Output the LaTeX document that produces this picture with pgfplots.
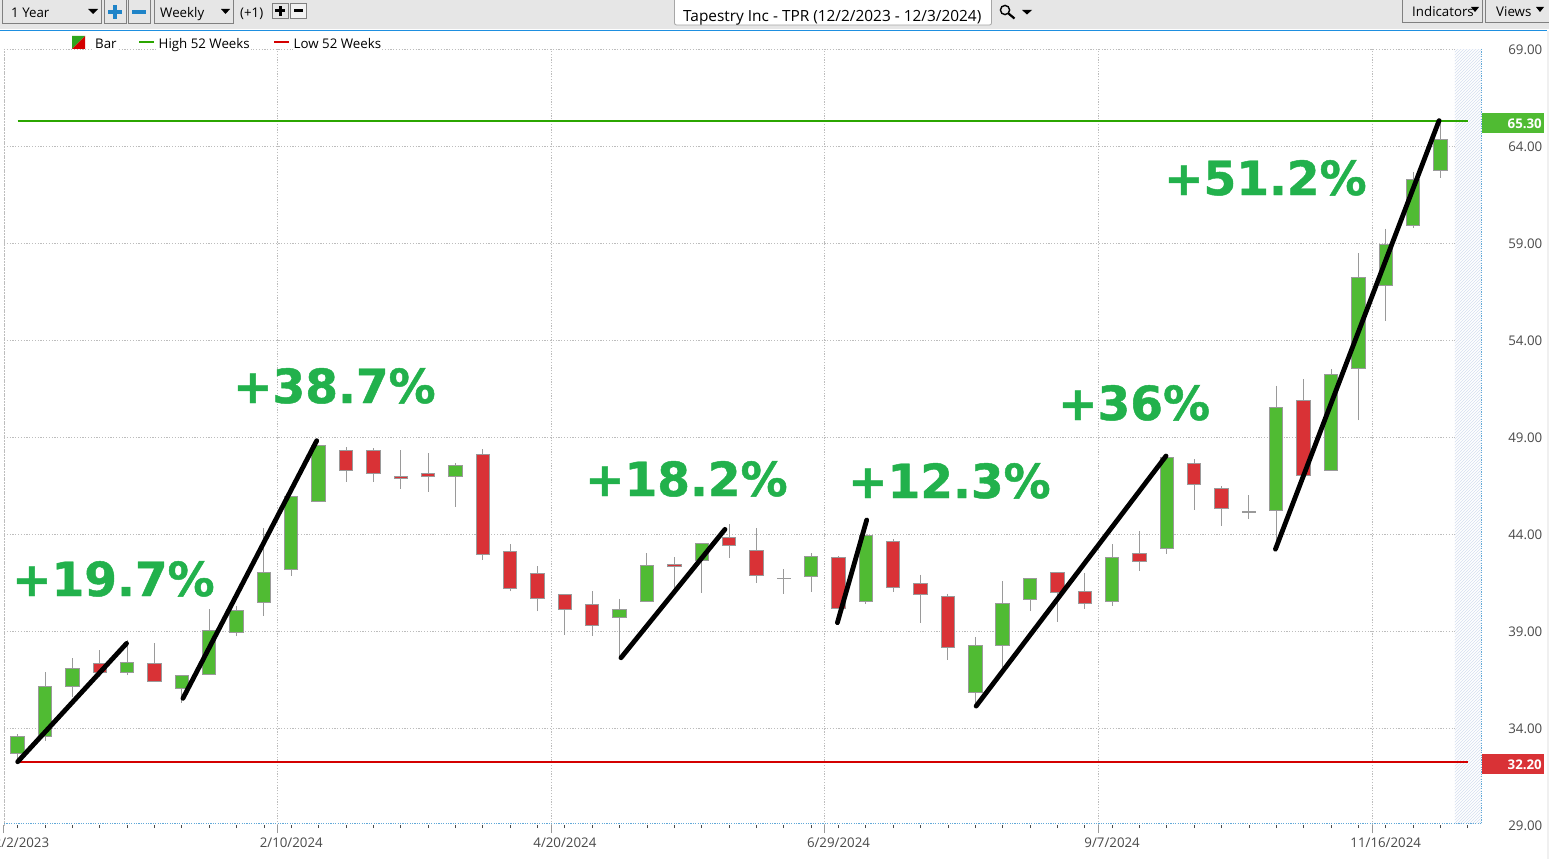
\documentclass[border=0pt]{standalone}
\usepackage{pgfplots}
\pgfplotsset{compat=1.18}
\usepgfplotslibrary{statistics}
\usetikzlibrary{patterns}
\usepackage{fontspec}
\setmainfont{Open Sans}
\newfontfamily\gainfont[FakeBold=1.0]{DejaVu Sans Bold}

\definecolor{upgreen}{HTML}{50BB33}
\definecolor{downred}{HTML}{D93236}
\definecolor{edgegray}{HTML}{9A9A9A}
\definecolor{gridgray}{HTML}{BDBDBD}
\definecolor{highline}{HTML}{2BA600}
\definecolor{lowline}{HTML}{D40000}
\definecolor{gaintext}{HTML}{22B14C}
\definecolor{labelgray}{HTML}{4A4A4A}
\definecolor{barblue}{HTML}{1E8FE0}
\definecolor{plusblue}{HTML}{1F84C8}
\definecolor{hatchblue}{HTML}{D5DFF0}
\definecolor{toolgray}{HTML}{E6E6E6}
\definecolor{boxgray}{HTML}{808080}

% x, low, body bottom, body top, high, colour
\newcommand{\candle}[6]{%
  \addplot[draw=edgegray, fill=#6, line width=1pt,
    boxplot prepared={draw position=#1, lower whisker=#2, lower quartile=#3,
      median=#3, upper quartile=#4, upper whisker=#5,
      box extend=0.49, whisker extend=0}] coordinates {};}
\newcommand{\ui}{\fontsize{13.3}{16}\selectfont}
\newcommand{\gain}[3]{\node[anchor=base west, inner sep=0pt, text=gaintext,
  font=\gainfont\fontsize{47}{50}\selectfont] at (#1,#2) {#3};}

\begin{document}
\begin{tikzpicture}[x=1pt, y=-1pt]
\useasboundingbox (0,0) rectangle (1549,859);
\fill[white] (0,0) rectangle (1549,859);

\begin{axis}[
  at={(4pt,-825pt)}, anchor=south west,
  scale only axis, width=1477.5pt, height=776pt,
  xmin=-0.5, xmax=53.5, ymin=29, ymax=69,
  boxplot/draw direction=y,
  axis line style={draw=none},
  xtick={0,10,20,30,40,50},
  xticklabels={12/2/2023,2/10/2024,4/20/2024,6/29/2024,9/7/2024,11/16/2024},
  minor xtick={0,1,...,53},
  xtick pos=lower,
  tick align=outside,
  major tick length=3pt, minor tick length=3pt,
  tick style={draw=labelgray, line width=0.8pt},
  extra x ticks={-0.5,9.5,19.5,29.5,39.5,49.5},
  extra x tick labels={},
  extra x tick style={grid=major, major tick length=8pt,
    tick style={draw=edgegray, line width=1pt}},
  xticklabel style={anchor=base, yshift=-19.5pt, inner sep=0pt, text=labelgray, font=\ui},
  ytick={34,39,...,69},
  extra y ticks={29},
  extra y tick style={grid=none},
  ymajorgrids=true,
  ytick pos=right,
  ytick style={draw=none},
  yticklabel style={anchor=east, xshift=58pt, yshift=-0.8pt, inner sep=0pt, text=labelgray, font=\ui,
    /pgf/number format/fixed, /pgf/number format/fixed zerofill,
    /pgf/number format/precision=2, /pgf/number format/assume math mode=true},
  grid style={draw=gridgray, line width=0.9pt, dash pattern=on 1.2pt off 1.6pt},
  clip=true,
]
% forecast band on the right
\addplot[fill=white, draw=none] coordinates {(52.53,29.08)(53.5,29.08)(53.5,69)(52.53,69)} -- cycle;
\addplot[pattern=north east lines, pattern color=hatchblue, draw=none] coordinates {(52.53,29.08)(53.5,29.08)(53.5,69)(52.53,69)} -- cycle;

\candle{0}{32.20}{32.69}{33.57}{33.69}{upgreen}
\candle{1}{33.35}{33.57}{36.15}{36.87}{upgreen}
\candle{2}{35.61}{36.15}{37.07}{37.59}{upgreen}
\candle{3}{36.65}{36.87}{37.33}{38.02}{downred}
\candle{4}{36.73}{36.87}{37.38}{38.54}{upgreen}
\candle{5}{36.40}{36.40}{37.33}{38.36}{downred}
\candle{6}{35.30}{36.04}{36.71}{36.71}{upgreen}
\candle{7}{36.77}{36.77}{39.03}{40.13}{upgreen}
\candle{8}{38.74}{38.93}{40.06}{40.30}{upgreen}
\candle{9}{39.79}{40.48}{42.02}{44.29}{upgreen}
\candle{10}{41.85}{42.18}{45.92}{45.92}{upgreen}
\candle{11}{45.68}{45.68}{48.57}{48.60}{upgreen}
\candle{12}{46.70}{47.28}{48.29}{48.47}{downred}
\candle{13}{46.70}{47.13}{48.29}{48.42}{downred}
\candle{14}{46.34}{46.87}{46.97}{48.33}{downred}
\candle{15}{46.18}{46.97}{47.13}{48.16}{downred}
\candle{16}{45.41}{46.97}{47.54}{47.64}{upgreen}
\candle{17}{42.68}{42.95}{48.09}{48.38}{downred}
\candle{18}{41.06}{41.20}{43.11}{43.48}{downred}
\candle{19}{40.03}{40.68}{41.95}{42.35}{downred}
\candle{20}{38.81}{40.12}{40.89}{40.89}{downred}
\candle{21}{38.76}{39.29}{40.37}{41.06}{downred}
\candle{22}{37.68}{39.70}{40.12}{40.65}{upgreen}
\candle{23}{40.51}{40.51}{42.38}{43.02}{upgreen}
\candle{24}{41.11}{42.33}{42.44}{42.81}{downred}
\candle{25}{40.97}{42.64}{43.52}{43.52}{upgreen}
\candle{26}{42.78}{43.41}{43.83}{44.51}{downred}
\candle{27}{41.49}{41.87}{43.16}{44.29}{downred}
\candle{28}{40.92}{41.69}{41.71}{42.18}{edgegray}
\candle{29}{41.03}{41.82}{42.85}{43.02}{upgreen}
\candle{30}{40.17}{40.17}{42.80}{42.85}{downred}
\candle{31}{40.41}{40.51}{43.93}{43.93}{upgreen}
\candle{32}{41.03}{41.25}{43.62}{43.72}{downred}
\candle{33}{39.43}{40.89}{41.46}{41.89}{downred}
\candle{34}{37.52}{38.16}{40.79}{40.91}{downred}
\candle{35}{35.18}{35.83}{38.26}{38.69}{upgreen}
\candle{36}{37.16}{38.26}{40.42}{41.57}{upgreen}
\candle{37}{40.04}{40.63}{41.71}{41.71}{upgreen}
\candle{38}{39.48}{40.99}{42.02}{42.02}{downred}
\candle{39}{40.15}{40.42}{41.04}{41.99}{downred}
\candle{40}{40.30}{40.53}{42.79}{43.48}{upgreen}
\candle{41}{42.11}{42.59}{42.98}{44.13}{downred}
\candle{42}{42.98}{43.26}{47.95}{47.95}{upgreen}
\candle{43}{45.25}{46.56}{47.62}{47.86}{downred}
\candle{44}{44.43}{45.32}{46.35}{46.45}{downred}
\candle{45}{44.79}{45.14}{45.16}{45.99}{edgegray}
\candle{46}{43.26}{45.22}{50.53}{51.63}{upgreen}
\candle{47}{47.02}{47.02}{50.87}{51.99}{downred}
\candle{48}{47.28}{47.28}{52.23}{52.48}{upgreen}
\candle{49}{49.87}{52.53}{57.23}{58.46}{upgreen}
\candle{50}{54.99}{56.82}{58.94}{59.73}{upgreen}
\candle{51}{59.78}{59.90}{62.29}{62.65}{upgreen}
\candle{52}{62.37}{62.73}{64.35}{65.30}{upgreen}

% 52 week levels
\addplot[highline, line width=2pt] coordinates {(0,65.30)(53,65.30)};
\addplot[lowline, line width=2pt] coordinates {(0,32.24)(53,32.24)};

% hand drawn trend lines
\addplot[black, line width=4.8pt, line cap=round] coordinates {(0,32.26)(3.98,38.36)};
\addplot[black, line width=4.8pt, line cap=round] coordinates {(6.04,35.53)(10.93,48.81)};
\addplot[black, line width=4.8pt, line cap=round] coordinates {(22.05,37.62)(25.85,44.24)};
\addplot[black, line width=4.8pt, line cap=round] coordinates {(29.96,39.43)(31.03,44.72)};
\addplot[black, line width=4.8pt, line cap=round] coordinates {(35.03,35.13)(41.97,48.02)};
\addplot[black, line width=4.8pt, line cap=round] coordinates {(45.97,43.22)(51.95,65.31)};
\end{axis}

% frame of the plot area
\draw[gridgray, line width=1pt, dash pattern=on 1.2pt off 1.6pt] (4,49) -- (4,825);
\draw[plusblue!70, line width=1pt, dash pattern=on 1.2pt off 1.2pt] (4,823.4) -- (1481.5,823.4);
\draw[plusblue!70, line width=1pt, dash pattern=on 1.2pt off 1.2pt] (1481.5,49) -- (1481.5,823.4);

% gains
\gain{12}{596}{+19.7\%}
\gain{233}{403}{+38.7\%}
\gain{585}{496}{+18.2\%}
\gain{848}{498}{+12.3\%}
\gain{1058}{420}{+36\%}
\gain{1164}{195}{+51.2\%}

% price tags
\fill[upgreen] (1482,113.3) rectangle (1544,132.7);
\node[anchor=east, inner sep=0pt, text=white, font=\ui\bfseries] at (1542,123.5) {65.30};
\fill[downred] (1482,754) rectangle (1544,773.7);
\node[anchor=east, inner sep=0pt, text=white, font=\ui\bfseries] at (1542,764.5) {32.20};

% toolbar
\fill[toolgray] (0,0) rectangle (1549,29.5);
\draw[barblue, line width=1.2pt] (0,30.2) -- (1547,30.2);
\fill[black!6] (1547,30.8) rectangle (1549,859);
\begin{scope}[draw=boxgray, line width=0.9pt]
\draw (2.3,-2) rectangle (101.5,23.5);
\draw (104.3,-2) rectangle (126,23);
\draw (128.3,-2) rectangle (150,23);
\draw (154.3,-2) rectangle (233.5,23.5);
\draw (272.5,3.5) rectangle (288,18.5);
\draw[fill=toolgray!50!white] (290.5,3.5) rectangle (306,18.5);
\draw (1402.5,-2) rectangle (1482,22.3);
\draw (1485.5,-2) rectangle (1552,22.3);
\end{scope}
\fill[plusblue] (108,10.5) rectangle (122,14);
\fill[plusblue] (113.3,5) rectangle (116.8,19.5);
\fill[plusblue] (132,10.5) rectangle (146,14);
\fill[black] (275,9.5) rectangle (285,12.5);
\fill[black] (278.5,6) rectangle (281.5,16);
\fill[black] (293.5,9.5) rectangle (303,12);
\fill[black] (88,9) -- (98,9) -- (93,14) -- cycle;
\fill[black] (221,9) -- (230,9) -- (225.5,14) -- cycle;
\fill[black] (1022,10) -- (1032,10) -- (1027,14.5) -- cycle;
\fill[black] (1471,7) -- (1479,7) -- (1475,12) -- cycle;
\fill[black] (1536,7) -- (1544,7) -- (1540,12) -- cycle;
\node[anchor=base west, inner sep=0pt, font=\ui] at (11,18) {1 Year};
\node[anchor=base west, inner sep=0pt, font=\ui] at (160,18) {Weekly};
\node[anchor=base west, inner sep=0pt, font=\ui] at (240,18) {(+1)};
\node[anchor=base west, inner sep=0pt, font=\ui] at (1412,17) {Indicators};
\node[anchor=base west, inner sep=0pt, font=\ui] at (1496,17) {Views};
\draw[fill=white, draw=black!35, line width=0.8pt, rounded corners=2pt] (674.5,-3) rectangle (991.5,25);
\node[anchor=base west, inner sep=0pt, font=\fontsize{15.4}{18}\selectfont] at (683,22) {Tapestry Inc - TPR (12/2/2023 - 12/3/2024)};
\draw[black, line width=1.4pt] (1005,10) circle (4.6);
\draw[black, line width=2.2pt] (1008.5,13.5) -- (1014.5,18.5);

% legend row
\fill[upgreen!70!green!80!black] (72,36) -- (85,36) -- (72,49) -- cycle;
\fill[lowline] (85,36) -- (85,49) -- (72,49) -- cycle;
\node[anchor=base west, inner sep=1pt, fill=white, font=\fontsize{13.3}{15}\selectfont] at (94,48.8) {Bar};
\fill[highline] (139,41) rectangle (154,42.6);
\node[anchor=base west, inner sep=1pt, fill=white, font=\fontsize{13.3}{15}\selectfont] at (157.5,48.8) {High 52 Weeks};
\fill[lowline] (274,41) rectangle (289,42.6);
\node[anchor=base west, inner sep=1pt, fill=white, font=\fontsize{13.3}{15}\selectfont] at (292.5,48.8) {Low 52 Weeks};
\end{tikzpicture}
\end{document}
